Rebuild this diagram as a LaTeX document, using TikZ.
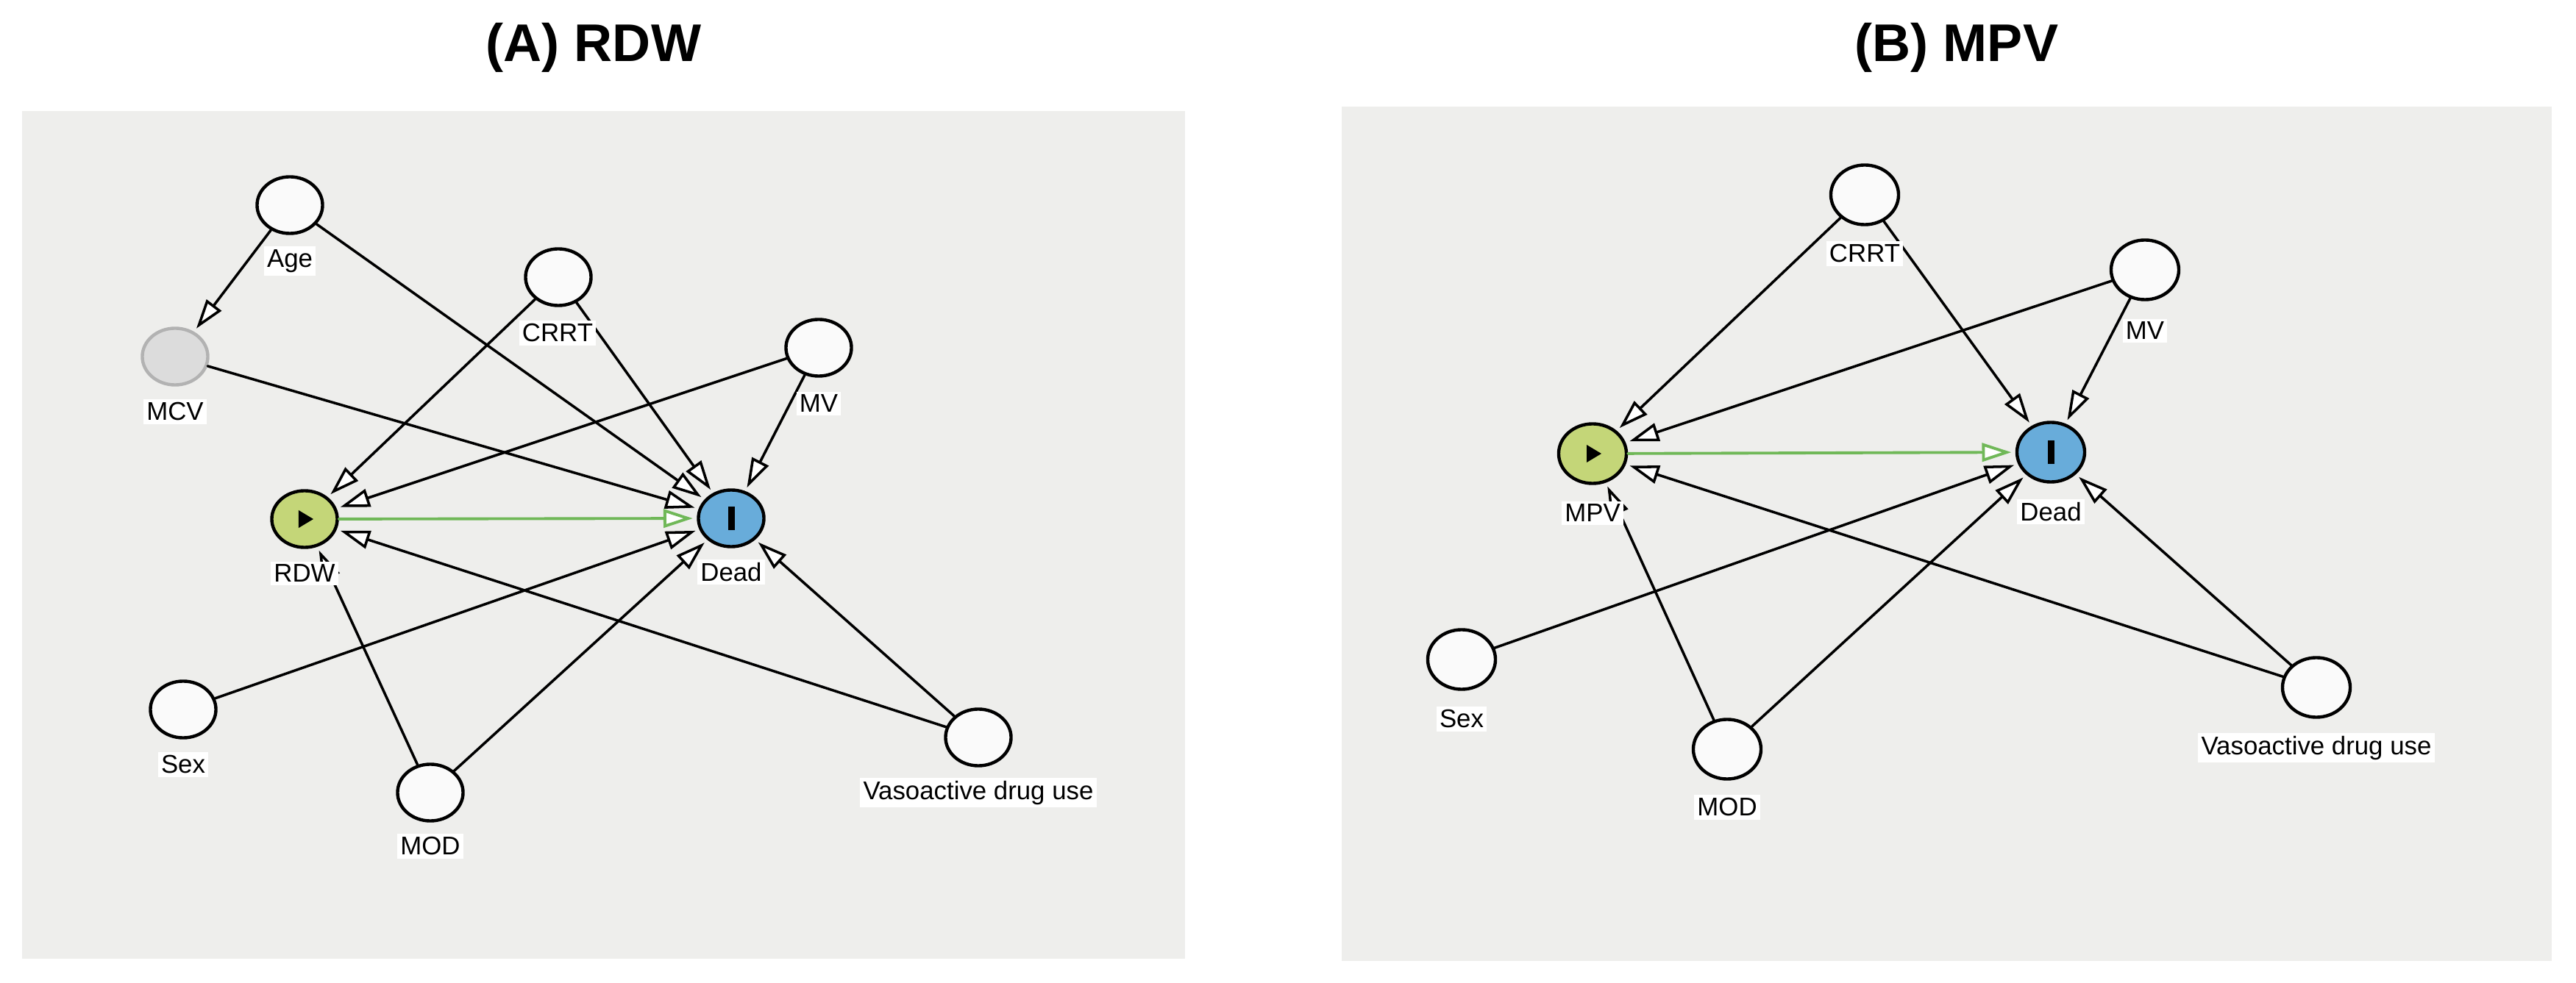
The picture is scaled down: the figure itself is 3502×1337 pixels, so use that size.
\documentclass[tikz,border=0pt]{standalone}
\usepackage{fontspec}
\setmainfont{Liberation Sans}
\usepackage{pgf,tikz}
\usetikzlibrary{arrows}
\usetikzlibrary{arrows.meta}
\usetikzlibrary{shapes.geometric}
\definecolor{panelgray}{RGB}{238,238,236}
\definecolor{expgreen}{RGB}{196,214,120}
\definecolor{outblue}{RGB}{104,172,218}
\definecolor{causalgreen}{RGB}{112,184,88}
\definecolor{adjgray}{RGB}{220,220,220}
\definecolor{adjedge}{RGB}{178,178,178}
\definecolor{nodewhite}{RGB}{250,250,250}
\begin{document}
\begin{tikzpicture}[line cap=round,line join=round,x=0.01cm,y=-0.01cm,
  var/.style={ellipse,draw=black,line width=1.25pt,fill=nodewhite,minimum width=0.89cm,minimum height=0.77cm,inner sep=0pt},
  adj/.style={var,draw=adjedge,fill=adjgray},
  expo/.style={var,fill=expgreen},
  outc/.style={var,fill=outblue},
  varlab/.style={fill=white,inner sep=1.2pt,font=\fontsize{9.9pt}{11pt}\selectfont},
  ttl/.style={anchor=base,font=\fontsize{20.5pt}{24pt}\selectfont\bfseries},
  edge/.style={line width=1pt,shorten >=1.5pt,-{Triangle[fill=white,length=0.4cm,width=0.25cm]}},
  causal/.style={edge,draw=causalgreen,line width=1.1pt}]
\fill[white] (0,0) rectangle (3502,1337);
\useasboundingbox (0,0) rectangle (3502,1337);
\node[ttl] (titleA) at (807,84) {(A) RDW};
\node[ttl] (titleB) at (2660,84) {(B) MPV};
\fill[panelgray] (30,151) rectangle (1611,1304);
\fill[panelgray] (1824,145) rectangle (3469,1307);
\node[var] (ageA) at (394,279) {};
\node[adj] (mcvA) at (238,485) {};
\node[var] (crrtA) at (759,377) {};
\node[var] (mvA) at (1113,473) {};
\node[expo] (rdwA) at (414,706) {};
\node[outc] (deadA) at (994,705) {};
\node[var] (sexA) at (249,965) {};
\node[var] (modA) at (585,1078) {};
\node[var] (vasoA) at (1330,1003) {};
\fill ([xshift=-0.08cm,yshift=0.12cm]rdwA.center) -- ++(0.2cm,-0.12cm) -- ++(-0.2cm,-0.12cm) -- cycle;
\fill ([xshift=-0.045cm,yshift=-0.16cm]deadA.center) rectangle ++(0.09cm,0.32cm);
\draw[edge] (ageA) -- (mcvA);
\draw[edge] (ageA) -- (deadA);
\draw[edge] (mcvA) -- (deadA);
\draw[edge] (crrtA) -- (rdwA);
\draw[edge] (crrtA) -- (deadA);
\draw[edge] (mvA) -- (rdwA);
\draw[edge] (mvA) -- (deadA);
\draw[edge] (sexA) -- (deadA);
\draw[edge] (modA) -- (rdwA);
\draw[edge] (modA) -- (deadA);
\draw[edge] (vasoA) -- (rdwA);
\draw[edge] (vasoA) -- (deadA);
\draw[causal] (rdwA) -- (deadA);
\node[varlab] (ageAlab) at (394,355) {Age};
\node[varlab] (mcvAlab) at (238,560) {MCV};
\node[varlab] (crrtAlab) at (758,453) {CRRT};
\node[varlab] (mvAlab) at (1113,549) {MV};
\node[varlab] (rdwAlab) at (414,780) {RDW};
\node[varlab] (deadAlab) at (994,778) {Dead};
\node[varlab] (sexAlab) at (249,1040) {Sex};
\node[varlab] (modAlab) at (585,1151) {MOD};
\node[varlab] (vasoAlab) at (1330,1078) {Vasoactive drug use};
\begin{scope}[var/.append style={minimum width=0.92cm,minimum height=0.81cm}]
\node[var] (crrtB) at (2535,265) {};
\node[var] (mvB) at (2916,367) {};
\node[expo] (mpvB) at (2165,617) {};
\node[outc] (deadB) at (2788,615) {};
\node[var] (sexB) at (1987,897) {};
\node[var] (modB) at (2348,1019) {};
\node[var] (vasoB) at (3149,935) {};
\end{scope}
\fill ([xshift=-0.08cm,yshift=0.12cm]mpvB.center) -- ++(0.2cm,-0.12cm) -- ++(-0.2cm,-0.12cm) -- cycle;
\fill ([xshift=-0.045cm,yshift=-0.16cm]deadB.center) rectangle ++(0.09cm,0.32cm);
\draw[edge] (crrtB) -- (mpvB);
\draw[edge] (crrtB) -- (deadB);
\draw[edge] (mvB) -- (mpvB);
\draw[edge] (mvB) -- (deadB);
\draw[edge] (sexB) -- (deadB);
\draw[edge] (modB) -- (mpvB);
\draw[edge] (modB) -- (deadB);
\draw[edge] (vasoB) -- (mpvB);
\draw[edge] (vasoB) -- (deadB);
\draw[causal] (mpvB) -- (deadB);
\node[varlab] (crrtBlab) at (2535,345) {CRRT};
\node[varlab] (mvBlab) at (2916,450) {MV};
\node[varlab] (mpvBlab) at (2165,698) {MPV};
\node[varlab] (deadBlab) at (2788,696) {Dead};
\node[varlab] (sexBlab) at (1987,978) {Sex};
\node[varlab] (modBlab) at (2348,1098) {MOD};
\node[varlab] (vasoBlab) at (3149,1017) {Vasoactive drug use};
\end{tikzpicture}
\end{document}
